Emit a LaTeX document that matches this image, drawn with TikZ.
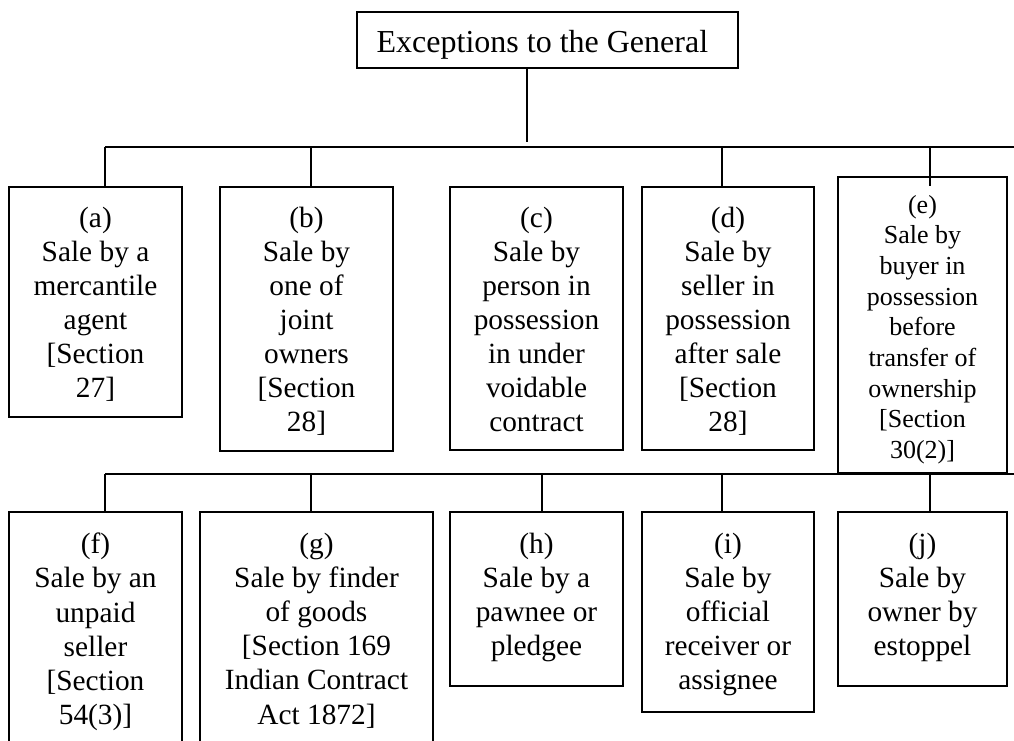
\documentclass[tikz,border=0pt]{standalone}
\usepackage{fontspec}
\setmainfont{Liberation Serif}
\usetikzlibrary{fit}
\begin{document}
\begin{tikzpicture}[x=0.75pt,y=-0.75pt,
  line width=1pt,
  box/.style={draw, line width=1pt, inner sep=0pt},
  txt/.style={align=center, inner sep=0pt, anchor=north,
    font=\fontsize{22}{25.6}\selectfont},
  smalltxt/.style={align=center, inner sep=0pt, anchor=north,
    font=\fontsize{19.5}{23}\selectfont},
  link/.style={draw, line width=1pt}]
\useasboundingbox (0,0) rectangle (1014,740);
\clip (0,0) rectangle (1014,740);

% root
\node[box, fit={(357,12) (738,68)}] (root) {};
\node[anchor=base west, inner sep=0pt, font=\fontsize{24}{28}\selectfont]
  (rootlbl) at (376,52) {Exceptions to the General};

% first row of exceptions
\node[box, fit={(9,187) (182,417)}] (a) {};
\node[box, fit={(220,187) (393,451)}] (b) {};
\node[box, fit={(450,187) (623,450)}] (c) {};
\node[box, fit={(642,187) (814,450)}] (d) {};
\node[box, fit={(838,177) (1007,473)}] (e) {};

\node[txt] (ta) at ([yshift=-14.8pt]a.north)
  {(a)\\Sale by a\\mercantile\\agent\\{[}Section\\27]};
\node[txt] (tb) at ([yshift=-14.8pt]b.north)
  {(b)\\Sale by\\one of\\joint\\owners\\{[}Section\\28]};
\node[txt] (tc) at ([yshift=-14.8pt]c.north)
  {(c)\\Sale by\\person in\\possession\\in under\\voidable\\contract};
\node[txt] (td) at ([yshift=-14.8pt]d.north)
  {(d)\\Sale by\\seller in\\possession\\after sale\\{[}Section\\28]};
\node[smalltxt] (te) at ([yshift=-13.5pt]e.north)
  {(e)\\Sale by\\buyer in\\possession\\before\\transfer of\\ownership\\{[}Section\\30(2)]};

% second row of exceptions
\node[box, fit={(9,512) (182,770)}] (f) {};
\node[box, fit={(200,512) (433,770)}] (g) {};
\node[box, fit={(450,512) (623,686)}] (h) {};
\node[box, fit={(642,512) (814,712)}] (i) {};
\node[box, fit={(838,512) (1007,686)}] (j) {};

\node[txt] (tf) at ([yshift=-15.8pt]f.north)
  {(f)\\Sale by an\\unpaid\\seller\\{[}Section\\54(3)]};
\node[txt] (tg) at ([yshift=-15.8pt]g.north)
  {(g)\\Sale by finder\\of goods\\{[}Section 169\\Indian Contract\\Act 1872]};
\node[txt] (th) at ([yshift=-15.8pt]h.north)
  {(h)\\Sale by a\\pawnee or\\pledgee};
\node[txt] (ti) at ([yshift=-15.8pt]i.north)
  {(i)\\Sale by\\official\\receiver or\\assignee};
\node[txt] (tj) at ([yshift=-15.8pt]j.north)
  {(j)\\Sale by\\owner by\\estoppel};

% connector geometry
\coordinate (stem) at (527,142);
\coordinate (busA) at (105,147);
\coordinate (busAend) at (1014,147);
\coordinate (busB) at (105,474);
\coordinate (busBend) at (1014,474);

\coordinate (da) at (105,147);
\coordinate (db) at (311,147);
\coordinate (dd) at (722,147);
\coordinate (de) at (930,147);

\coordinate (df) at (105,474);
\coordinate (dg) at (311,474);
\coordinate (dh) at (542,474);
\coordinate (di) at (722,474);
\coordinate (dj) at (930,474);

% connectors
\path[link] (root.south -| stem) -- (stem);
\path[link] (busA) -- (busAend);
\path[link] (da) -- (da |- a.north);
\path[link] (db) -- (db |- b.north);
\path[link] (dd) -- (dd |- d.north);
\path[link] (de) -- (de |- b.north);

\path[link] (busB) -- (busBend);
\path[link] (df) -- (df |- f.north);
\path[link] (dg) -- (dg |- g.north);
\path[link] (dh) -- (dh |- h.north);
\path[link] (di) -- (di |- i.north);
\path[link] (dj) -- (dj |- j.north);
\end{tikzpicture}
\end{document}
